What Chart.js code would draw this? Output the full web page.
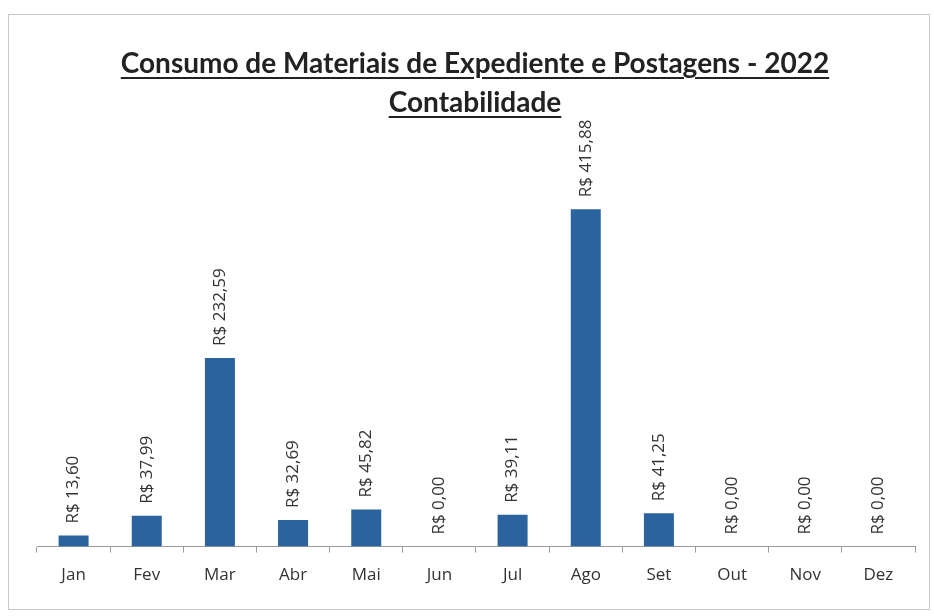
<!DOCTYPE html>
<html>
<head>
<meta charset="utf-8">
<script src="https://cdn.jsdelivr.net/npm/chart.js@4"></script>
<style>
  html, body { margin: 0; padding: 0; background: #ffffff; }
  #wrap { position: relative; width: 934px; height: 616px; overflow: hidden; }
  #frame { position: absolute; left: 8px; top: 14px; width: 922px; height: 596px; border: 1px solid #c8c8c8; box-sizing: border-box; }
  .t { position: absolute; left: 0; width: 934px; text-align: center; font-family: Lato, "Open Sans", sans-serif; font-weight: bold; font-size: 28px; color: #222222; text-decoration: underline; text-decoration-thickness: 2px; text-underline-offset: 4px; }
  #t1 { top: 45px; left: 8px; }
  #t2 { top: 84px; left: 8px; }
  canvas { position: absolute; left: 0; top: 0; }
</style>
</head>
<body>
<div id="wrap">
  <div id="frame"></div>
  <canvas id="c" width="934" height="616"></canvas>
  <div class="t" id="t1">Consumo de Materiais de Expediente e Postagens - 2022</div>
  <div class="t" id="t2">Contabilidade</div>
</div>
<script>
const months = ["Jan","Fev","Mar","Abr","Mai","Jun","Jul","Ago","Set","Out","Nov","Dez"];
const values = [13.60, 37.99, 232.59, 32.69, 45.82, 0.00, 39.11, 415.88, 41.25, 0.00, 0.00, 0.00];
const valueLabels = ["R$ 13,60","R$ 37,99","R$ 232,59","R$ 32,69","R$ 45,82","R$ 0,00","R$ 39,11","R$ 415,88","R$ 41,25","R$ 0,00","R$ 0,00","R$ 0,00"];

const labelPlugin = {
  id: 'vlabels',
  afterDatasetsDraw(chart) {
    const ctx = chart.ctx;
    const meta = chart.getDatasetMeta(0);
    ctx.save();
    ctx.font = '17px "Open Sans", sans-serif';
    ctx.fillStyle = '#333333';
    ctx.textAlign = 'left';
    ctx.textBaseline = 'middle';
    meta.data.forEach((bar, i) => {
      ctx.save();
      ctx.translate(bar.x, bar.y - 12);
      ctx.rotate(-Math.PI / 2);
      ctx.fillText(valueLabels[i], 0, 0);
      ctx.restore();
    });
    ctx.restore();
  }
};

new Chart(document.getElementById('c'), {
  type: 'bar',
  data: {
    labels: months,
    datasets: [{
      data: values,
      backgroundColor: '#2b639e',
      borderWidth: 0,
      categoryPercentage: 1.0,
      barPercentage: 0.41
    }]
  },
  options: {
    responsive: false,
    animation: false,
    devicePixelRatio: 1,
    layout: { padding: { left: 37, right: 19, top: 141, bottom: 19 } },
    plugins: { legend: { display: false }, tooltip: { enabled: false }, title: { display: false } },
    scales: {
      x: {
        offset: true,
        grid: { display: true, drawOnChartArea: false, offset: true, tickLength: 6, color: '#9a9a9a' },
        border: { display: true, color: '#9a9a9a', width: 1 },
        ticks: { padding: 12, color: '#333333', font: { family: '"Open Sans", sans-serif', size: 17 } }
      },
      y: {
        display: false,
        min: 0,
        max: 500
      }
    }
  },
  plugins: [labelPlugin]
});
</script>
</body>
</html>
